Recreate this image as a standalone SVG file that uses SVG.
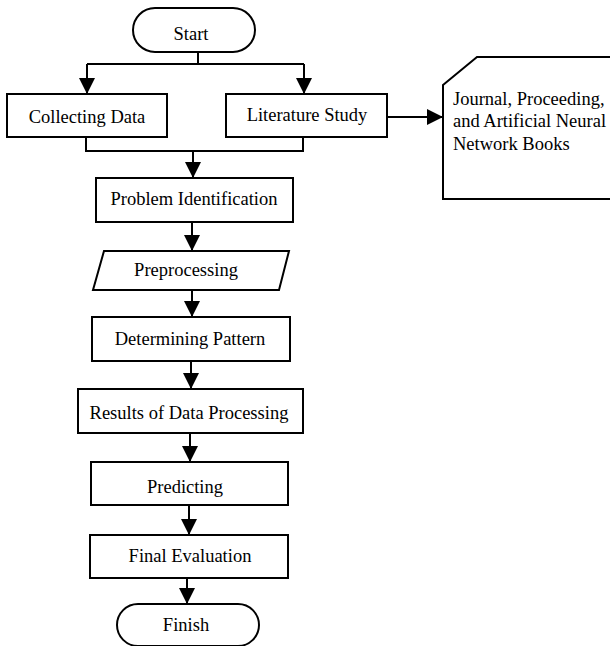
<svg xmlns="http://www.w3.org/2000/svg" width="610" height="646" viewBox="0 0 610 646">
<defs>
<style>
.s{fill:#fff;stroke:#000;stroke-width:2}
.c{fill:none;stroke:#000;stroke-width:2}
text{font-family:"Liberation Serif","Times New Roman",serif;font-size:18.5px;fill:#000}
.m{text-anchor:middle}
</style>
<marker id="a" markerUnits="userSpaceOnUse" markerWidth="16" markerHeight="16" viewBox="0 0 16 16" refX="16" refY="8" orient="auto">
<path d="M0,0 L16,8 L0,16 Z" fill="#000"/>
</marker>
</defs>
<g id="connectors">
<path class="c" d="M198,52 V64"/>
<path class="c" d="M87,64 H304"/>
<path class="c" d="M87,64 V94" marker-end="url(#a)"/>
<path class="c" d="M304,64 V94" marker-end="url(#a)"/>
<path class="c" d="M387,117 H443" marker-end="url(#a)"/>
<path class="c" d="M86,137 V151 H303 V137"/>
<path class="c" d="M193,151 V178" marker-end="url(#a)"/>
<path class="c" d="M192,222 V251" marker-end="url(#a)"/>
<path class="c" d="M192,290 V317" marker-end="url(#a)"/>
<path class="c" d="M191,361 V389" marker-end="url(#a)"/>
<path class="c" d="M190,433 V462" marker-end="url(#a)"/>
<path class="c" d="M189,505 V535" marker-end="url(#a)"/>
<path class="c" d="M187,578 V604" marker-end="url(#a)"/>
</g>
<g id="start">
<rect class="s" x="133" y="8" width="122" height="44" rx="22" ry="22"/>
<text class="m" x="191" y="40">Start</text>
</g>
<g id="collecting">
<rect class="s" x="7" y="94" width="160" height="43"/>
<text class="m" x="87" y="123">Collecting Data</text>
</g>
<g id="literature">
<rect class="s" x="226" y="94" width="161" height="43"/>
<text class="m" x="307" y="121">Literature Study</text>
</g>
<g id="sources">
<path class="s" d="M443,85 L477,57 H616 V199 H443 Z"/>
<text x="453" y="105">Journal, Proceeding,</text>
<text x="453" y="127">and Artificial Neural</text>
<text x="453" y="150">Network Books</text>
</g>
<g id="problem">
<rect class="s" x="96" y="178" width="197" height="44"/>
<text class="m" x="194" y="205">Problem Identification</text>
</g>
<g id="preprocessing">
<path class="s" d="M104,251 H289 L279,290 H93 Z"/>
<text class="m" x="186" y="276">Preprocessing</text>
</g>
<g id="pattern">
<rect class="s" x="92" y="317" width="198" height="44"/>
<text class="m" x="190" y="345">Determining Pattern</text>
</g>
<g id="results">
<rect class="s" x="78" y="389" width="225" height="44"/>
<text class="m" x="189" y="419">Results of Data Processing</text>
</g>
<g id="predicting">
<rect class="s" x="91" y="462" width="197" height="43"/>
<text class="m" x="185" y="493">Predicting</text>
</g>
<g id="evaluation">
<rect class="s" x="90" y="535" width="198" height="43"/>
<text class="m" x="190" y="562">Final Evaluation</text>
</g>
<g id="finish">
<rect class="s" x="117" y="604" width="142" height="42" rx="21" ry="21"/>
<text class="m" x="186" y="631">Finish</text>
</g>
</svg>
